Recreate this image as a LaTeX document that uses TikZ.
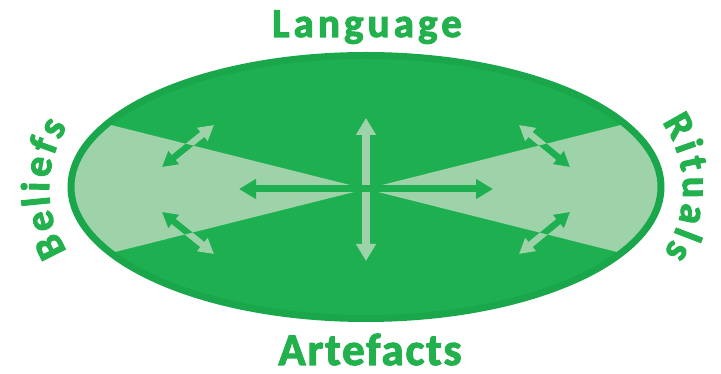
\documentclass[tikz,border=0pt]{standalone}
\usepackage{fontspec}
\setmainfont{Carlito}
\newfontfamily\lblfont{Carlito Bold}[FakeBold=2.5]
\usetikzlibrary{arrows.meta,calc}
\definecolor{dgreen}{HTML}{1EB050}
\definecolor{bgreen}{HTML}{1AA74B}
\definecolor{lgreen}{HTML}{9ED3AA}
\definecolor{tgreen}{HTML}{22B14C}
\begin{document}
\begin{tikzpicture}[x=1pt,y=1pt,
  lbl/.style={text=tgreen,font=\lblfont\fontsize{40}{40}\selectfont,inner sep=0pt,anchor=base},
  bigarrow/.style={line width=8pt,{Triangle[width=19pt,length=17pt]}-{Triangle[width=19pt,length=17pt]}},
  diagarrow/.style={line width=6.5pt,{Triangle[width=16pt,length=15pt]}-{Triangle[width=16pt,length=15pt]}}]
\useasboundingbox (0,0) rectangle (721,374);
\coordinate (E) at (366,187);
\coordinate (O) at (366,185);
\coordinate (CL) at (165,185);
\coordinate (CR) at (567,185);
% endpoints
\coordinate (va) at (366,256); \coordinate (vb) at (366,113);
\coordinate (ha) at (239,185); \coordinate (hb) at (493,185);
\coordinate (ula) at (162,207); \coordinate (ulb) at (214,249);
\coordinate (lla) at (162,162); \coordinate (llb) at (214,120);
\coordinate (ura) at (570,207); \coordinate (urb) at (519,249);
\coordinate (lra) at (570,162); \coordinate (lrb) at (519,120);
% ellipse body
\fill[dgreen] (E) ellipse [x radius=295, y radius=131.5];
\begin{scope}
  \clip (E) ellipse [x radius=295, y radius=131.5];
  \fill[lgreen] (O) -- ($(O)+(-310,77.8)$) -- ($(O)+(-310,-77.8)$) -- cycle;
  \fill[lgreen] (O) -- ($(O)+(310,77.8)$) -- ($(O)+(310,-77.8)$) -- cycle;
\end{scope}
% diagonal arrows, light on dark
\foreach \a/\b in {ula/ulb,lla/llb,ura/urb,lra/lrb}
  \draw[diagarrow,lgreen] (\a) -- (\b);
% dark on light
\begin{scope}
  \clip (O) -- ($(O)+(-310,77.8)$) -- ($(O)+(-310,-77.8)$) -- cycle
        (O) -- ($(O)+(310,77.8)$) -- ($(O)+(310,-77.8)$) -- cycle;
  \foreach \a/\b in {ula/ulb,lla/llb,ura/urb,lra/lrb}
    \draw[diagarrow,dgreen] (\a) -- (\b);
\end{scope}
% cross arrows
\draw[bigarrow,lgreen] (va) -- (vb);
\draw[bigarrow,line width=7pt,dgreen] (ha) -- (hb);
% border
\draw[bgreen,line width=7pt] (E) ellipse [x radius=295, y radius=131.5];
% labels
\node[lbl,font=\lblfont\fontsize{41}{41}\selectfont\addfontfeatures{LetterSpace=10}] (lang) at (367,337) {Language};
\node[lbl,font=\lblfont\fontsize{45}{45}\selectfont\addfontfeatures{LetterSpace=4}] (art) at (370,9) {Artefacts};
\foreach \ch/\ang [count=\i] in {B/206.8,e/194.75,l/185.66,i/178.99,e/169.9,f/160.13,s/151.33}
  \node[lbl,rotate=\ang-90] (bel\i) at ($(CL)+(\ang:116)$) {\ch};
\foreach \ch/\ang [count=\i] in {R/29.5,i/19.47,t/11.45,u/0.68,a/-11.47,l/-20.88,s/-29.4}
  \node[lbl,rotate=\ang-90] (rit\i) at ($(CR)+(\ang:116)$) {\ch};
\end{tikzpicture}
\end{document}
